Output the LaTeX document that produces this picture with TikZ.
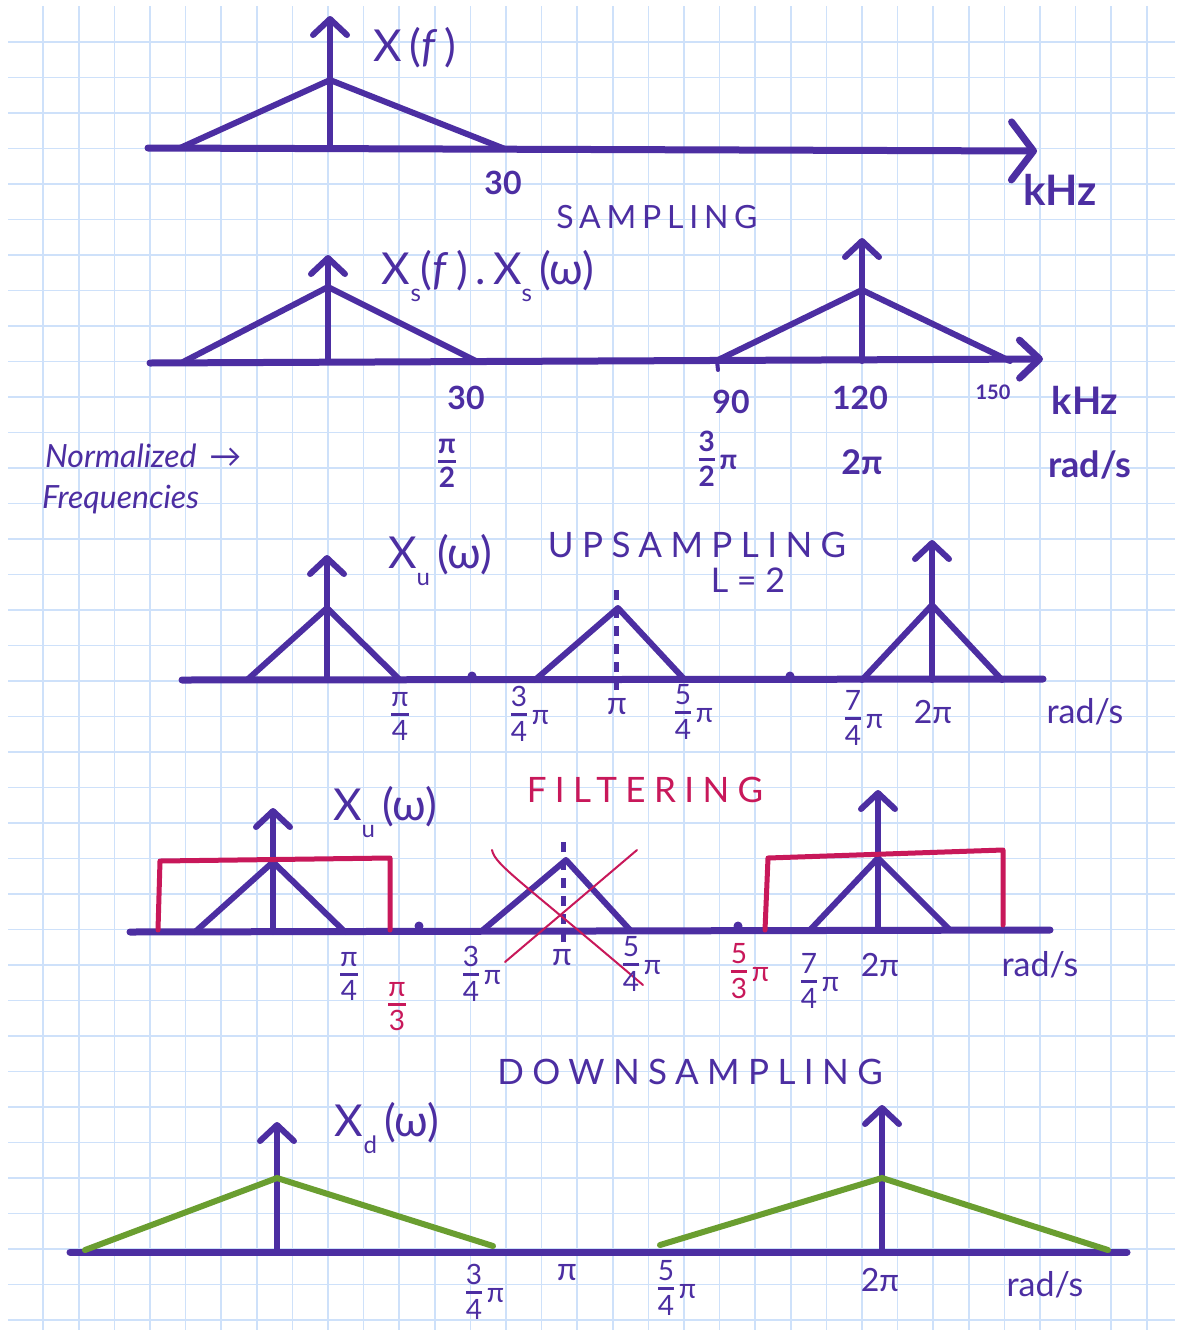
\documentclass[tikz,border=0pt]{standalone}
\usepackage{fontspec}
\setmainfont{Lato}
\usetikzlibrary{arrows.meta}
\definecolor{pen}{RGB}{76,46,162}
\definecolor{redpen}{RGB}{200,24,90}
\definecolor{grnpen}{RGB}{106,158,48}
\definecolor{gridc}{RGB}{206,225,250}
\newcommand\fsz[1]{\fontsize{#1}{#1}\selectfont}
\newcommand\sbs[1]{\raisebox{-0.4em}{\fsz{24}#1}}
\newcommand\frc[2]{\begin{tabular}{@{}c@{}}#1\\[-2pt]\hline\rule{0pt}{0.9em}#2\end{tabular}}
\setlength\arrayrulewidth{3pt}
\tikzset{
  sig/.style={draw=pen, line width=6pt, line cap=round, line join=round},
  axisline/.style={draw=pen, line width=7pt, line cap=round},
  filt/.style={draw=redpen, line width=5pt, line join=round, line cap=round},
  grn/.style={draw=grnpen, line width=6pt, line cap=round},
  cross/.style={draw=redpen, line width=2pt, line cap=round},
  uparrow/.style={draw=pen, line width=6pt, line cap=round,
    -{Straight Barb[round, length=16pt, width=34pt]}},
  axarrow/.style={draw=pen, line width=7pt, line cap=round,
    -{Straight Barb[round, length=22pt, width=58pt]}},
  lbl/.style={text=pen, inner sep=0pt, font=\fsz{44}},
  num/.style={text=pen, inner sep=0pt, font=\bfseries\fsz{32}},
  frac/.style={text=pen, inner sep=0pt, font=\fsz{28}},
  rfrac/.style={text=redpen, inner sep=0pt, font=\fsz{28}},
  title/.style={text=pen, inner sep=0pt, font=\fsz{32}\addfontfeature{LetterSpace=18}},
  bigtitle/.style={text=pen, inner sep=0pt, font=\fsz{35}\addfontfeature{LetterSpace=24}},
  dotmark/.style={fill=pen, draw=none, circle, minimum size=9pt, inner sep=0pt}
}
\begin{document}
\begin{tikzpicture}[x=1pt, y=-1pt]
\useasboundingbox (0,0) rectangle (1178,1334);
\fill[white] (0,0) rectangle (1178,1334);
% grid paper
\foreach \i in {1,...,32} \draw[gridc, line width=1.6pt] ({7.5+35.6*\i},6) -- ({7.5+35.6*\i},1330);
\foreach \j in {1,...,37} \draw[gridc, line width=1.6pt] (8,{6.5+35.5*\j}) -- (1175,{6.5+35.5*\j});

% ===== panel 1 : X(f)
\coordinate (a1s) at (148,148);
\coordinate (a1e) at (1037,151);
\draw[axarrow] (a1s) -- (a1e);
\coordinate (p1b) at (330,148);
\coordinate (p1t) at (330,16);
\draw[uparrow] (p1b) -- (p1t);
\draw[sig] (180,148) -- (330,80) -- (505,149);
\node[lbl] (xf) at (415,48) {X\,(\textit{f}\,)};
\node[num] (n30a) at (503,183) {30};
\node[lbl, font=\bfseries\fsz{42}] (khz1) at (1060,190) {kHz};
\node[title] (samp) at (657,217) {SAMPLING};

% ===== panel 2 : Xs
\coordinate (a2s) at (150,363);
\coordinate (a2e) at (1043,359);
\draw[axarrow, -{Straight Barb[round, length=20pt, width=38pt]}] (a2s) -- (a2e);
\draw[uparrow] (328,362) -- (328,255);
\draw[sig] (183,362) -- (328,287) -- (478,362);
\draw[uparrow] (862,361) -- (862,238);
\draw[sig] (716,361) -- (862,290) -- (1010,361);
\draw[pen, line width=4pt, line cap=round] (717,361) -- (718,370);
\node[lbl] (xs) at (488,276) {X\sbs{s}(\textit{f}\,)\,.\,X\sbs{s}\,(ω)};
\node[num] (n30b) at (466,398) {30};
\node[num] (n90) at (731,402) {90};
\node[num] (n120) at (860,398) {120};
\node[num, font=\bfseries\fsz{20}] (n150) at (993,392) {150};
\node[lbl, font=\bfseries\fsz{38}] (khz2) at (1085,400) {kHz};
\node[lbl, font=\itshape\fsz{32}, anchor=west] (norm) at (45,456) {Normalized \,→};
\node[lbl, font=\itshape\fsz{32}, anchor=west] (freq) at (42,500) {Frequencies};
\node[frac, font=\bfseries\fsz{28}] (f1) at (447,465) {\frc{π}{2}};
\node[frac, font=\bfseries\fsz{28}] (f2) at (718,463) {\frc{3}{2}\,π};
\node[num, font=\bfseries\fsz{34}] (f3) at (862,462) {2π};
\node[lbl, font=\bfseries\fsz{36}] (rad0) at (1090,465) {rad/s};

% ===== panel 3 : upsampling
\coordinate (a3s) at (182,680);
\coordinate (a3e) at (1043,679);
\draw[axisline] (a3s) -- (a3e);
\draw[uparrow] (327,680) -- (327,555);
\draw[sig] (247,680) -- (327,608) -- (400,680);
\draw[sig] (535,680) -- (618,608) -- (685,680);
\draw[pen, line width=5pt, dash pattern=on 10pt off 8pt] (616,690) -- (616,585);
\draw[uparrow] (932,680) -- (932,540);
\draw[sig] (862,680) -- (932,605) -- (1002,680);
\node[dotmark] (d1) at (472,676) {};
\node[dotmark] (d2) at (790,676) {};
\node[lbl] (xu1) at (440,560) {X\sbs{u}\,(ω)};
\node[bigtitle] (ups) at (697,545) {UPSAMPLING};
\node[lbl, font=\fsz{34}] (l2) at (748,580) {L = 2};
\node[frac] (u1) at (400,718) {\frc{π}{4}};
\node[frac] (u2) at (530,718) {\frc{3}{4}\,π};
\node[frac, font=\fsz{32}] (u3) at (617,707) {π};
\node[frac] (u4) at (694,716) {\frc{5}{4}\,π};
\node[frac] (u5) at (864,722) {\frc{7}{4}\,π};
\node[frac, font=\fsz{32}] (u6) at (933,712) {2π};
\node[lbl, font=\fsz{34}] (rad1) at (1085,712) {rad/s};

% ===== panel 4 : filtering
\coordinate (a4s) at (130,932);
\coordinate (a4e) at (1050,930);
\draw[axisline] (a4s) -- (a4e);
\draw[uparrow] (273,932) -- (273,808);
\draw[sig] (195,932) -- (273,862) -- (345,932);
\draw[filt] (158,930) -- (160,861) -- (390,858) -- (390,930);
\node[dotmark] (d3) at (419,926) {};
\draw[sig] (483,930) -- (566,860) -- (630,930);
\draw[pen, line width=5pt, dash pattern=on 10pt off 8pt] (563,942) -- (563,836);
\draw[cross] (492,850) .. controls (495,865) and (520,880) .. (643,985);
\draw[cross] (637,850) -- (505,962);
\draw[uparrow] (878,930) -- (878,790);
\draw[sig] (810,930) -- (878,858) -- (950,930);
\draw[filt] (765,930) -- (768,858) -- (1003,850) -- (1003,925);
\node[dotmark] (d4) at (738,926) {};
\node[lbl] (xu2) at (385,812) {X\sbs{u}\,(ω)};
\node[bigtitle, text=redpen] (filtt) at (645,790) {FILTERING};
\node[frac] (g1) at (349,978) {\frc{π}{4}};
\node[rfrac] (g2) at (397,1008) {\frc{π}{3}};
\node[frac] (g3) at (482,978) {\frc{3}{4}\,π};
\node[frac, font=\fsz{32}] (g4) at (562,958) {π};
\node[frac] (g5) at (642,968) {\frc{5}{4}\,π};
\node[rfrac] (g6) at (750,975) {\frc{5}{3}\,π};
\node[frac] (g7) at (820,985) {\frc{7}{4}\,π};
\node[frac, font=\fsz{32}] (g8) at (880,965) {2π};
\node[lbl, font=\fsz{34}] (rad2) at (1040,965) {rad/s};

% ===== panel 5 : downsampling
\node[bigtitle] (dns) at (690,1072) {DOWNSAMPLING};
\coordinate (a5s) at (70,1252);
\coordinate (a5e) at (1127,1252);
\draw[axisline] (a5s) -- (a5e);
\draw[uparrow] (277,1252) -- (277,1122);
\draw[grn] (85,1250) -- (277,1178) -- (493,1246);
\draw[uparrow] (882,1252) -- (882,1105);
\draw[grn] (660,1245) -- (882,1178) -- (1108,1250);
\node[lbl] (xd) at (387,1128) {X\sbs{d}\,(ω)};
\node[frac] (h1) at (485,1296) {\frc{3}{4}\,π};
\node[frac, font=\fsz{32}] (h2) at (567,1273) {π};
\node[frac] (h3) at (677,1292) {\frc{5}{4}\,π};
\node[frac, font=\fsz{32}] (h4) at (880,1280) {2π};
\node[lbl, font=\fsz{34}] (rad3) at (1045,1285) {rad/s};
\end{tikzpicture}
\end{document}
